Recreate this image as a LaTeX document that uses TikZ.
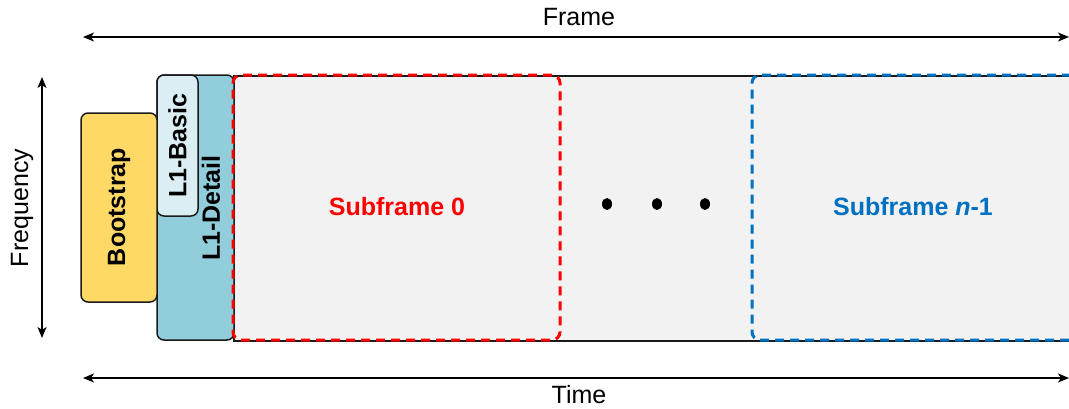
\documentclass[tikz,border=0pt]{standalone}
\usepackage{fontspec}
\setmainfont{Liberation Sans}
\usetikzlibrary{arrows.meta,shapes.geometric}
\definecolor{bootc}{HTML}{FFD966}
\definecolor{detc}{HTML}{92CDDC}
\definecolor{basc}{HTML}{DAEEF3}
\definecolor{grayc}{HTML}{F2F2F2}
\definecolor{redc}{HTML}{FF0000}
\definecolor{bluec}{HTML}{0070C0}
\definecolor{edgec}{HTML}{1A1A1A}
\begin{document}
\begin{tikzpicture}[x=1pt,y=-1pt,
  box/.style={draw=edgec,line width=1.5pt,rounded corners=7pt,inner sep=0pt,outer sep=0pt},
  sub/.style={line width=3pt,dash pattern=on 9pt off 6pt,rounded corners=8pt,inner sep=0pt,outer sep=0pt},
  lbl/.style={inner sep=0pt,font=\fontsize{25}{30}\selectfont},
  blbl/.style={inner sep=0pt,font=\fontsize{25}{30}\selectfont\bfseries},
  dimarrow/.style={line width=1.5pt,{Stealth[length=11pt,width=9pt,inset=3pt]}-{Stealth[length=11pt,width=9pt,inset=3pt]}},
  dotn/.style={ellipse,fill=black,minimum width=10pt,minimum height=12pt,inner sep=0pt}
]
\useasboundingbox (0,0) rectangle (1069,408);
% frame background
\node[draw=edgec,line width=1.5pt,fill=grayc,inner sep=0pt,minimum width=850pt,minimum height=265pt,anchor=north west] (frame) at (233,75) {};
% L1-Detail
\node[box,fill=detc,minimum width=77pt,minimum height=265pt,anchor=north west] (det) at (157,75) {};
\node[blbl,rotate=90] (detl) at (211,208) {L1-Detail};
% L1-Basic
\node[box,fill=basc,minimum width=41pt,minimum height=141pt,anchor=north west] (bas) at (157,75) {};
\node[blbl,rotate=90] (basl) at (bas.center) {L1-Basic};
% Bootstrap
\node[box,fill=bootc,minimum width=76pt,minimum height=189pt,anchor=north west] (boot) at (81,113) {};
\node[blbl,rotate=90] (bootl) at (119,207) {Bootstrap};
% subframes
\node[sub,draw=redc,minimum width=327pt,minimum height=265pt,anchor=north west] (sf0) at (233,75) {};
\node[blbl,text=redc] (sf0l) at (397,207) {Subframe 0};
\node[sub,draw=bluec,minimum width=327pt,minimum height=265pt,anchor=north west] (sfn) at (752,75) {};
\node[blbl,text=bluec] (sfnl) at (913,207) {Subframe \textit{n}-1};
% dots
\node[dotn] (d1) at (607,204) {};
\node[dotn] (d2) at (657,204) {};
\node[dotn] (d3) at (705,204) {};
% arrows
\coordinate (fl) at (83,37);
\coordinate (fr) at (1069,37);
\coordinate (tl) at (83,378);
\coordinate (tr) at (1069,378);
\coordinate (qt) at (42,77);
\coordinate (qb) at (42,338);
\draw[dimarrow] (fl) -- (fr);
\draw[dimarrow] (tl) -- (tr);
\draw[dimarrow] (qt) -- (qb);
\node[lbl] (framel) at (579,17) {Frame};
\node[lbl] (timel) at (579,395) {Time};
\node[lbl,rotate=90] (freql) at (22,208) {Frequency};
\end{tikzpicture}
\end{document}
